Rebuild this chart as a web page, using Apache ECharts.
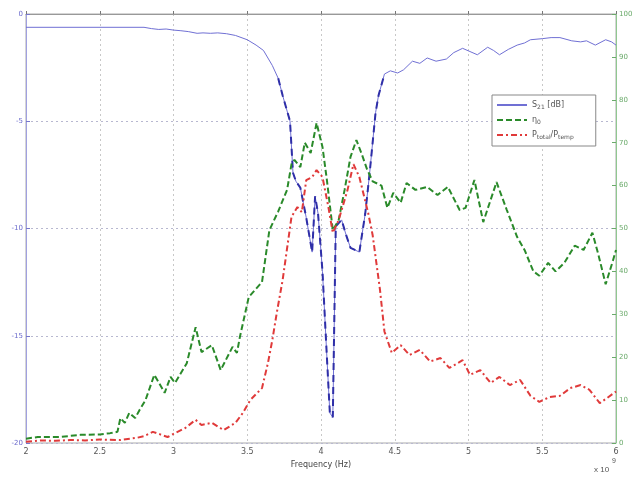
<!DOCTYPE html>
<html>
<head>
<meta charset="utf-8">
<script src="https://cdn.jsdelivr.net/npm/echarts@6/dist/echarts.min.js"></script>
<style>
html, body { margin: 0; padding: 0; background: #fff; }
#chart_box { width: 642px; height: 477px; }
</style>
</head>
<body>
<div id="chart_box"></div>
<script>
// frequency in GHz (axis shows x 10^9)
var xTicks = ["2", "2.5", "3", "3.5", "4", "4.5", "5", "5.5", "6"];

// S21 [dB], left axis
var s21Freq = [2.00, 2.80, 2.85, 2.90, 2.95, 3.00, 3.05, 3.10, 3.16, 3.20, 3.25, 3.30, 3.36, 3.42, 3.50, 3.56, 3.61, 3.67, 3.71, 3.74,
  3.79, 3.81, 3.83, 3.86, 3.90, 3.94, 3.96, 3.98, 4.01, 4.04, 4.06, 4.08, 4.10, 4.14, 4.17, 4.20, 4.23, 4.26, 4.30, 4.33,
  4.37, 4.39, 4.43, 4.47, 4.52, 4.56, 4.62, 4.67, 4.72, 4.78, 4.85, 4.90, 4.96, 5.01, 5.06, 5.13, 5.17, 5.21, 5.27, 5.33,
  5.38, 5.42, 5.50, 5.56, 5.62, 5.70, 5.76, 5.80, 5.86, 5.93, 5.97, 6.00];
var s21 = [-0.62, -0.62, -0.68, -0.72, -0.70, -0.75, -0.78, -0.82, -0.90, -0.88, -0.90, -0.88, -0.92, -1.00, -1.20, -1.45, -1.70, -2.40, -3.00, -3.80,
  -5.00, -7.40, -7.80, -8.10, -9.50, -11.10, -8.50, -9.30, -12.00, -16.00, -18.60, -18.80, -9.90, -9.60, -10.30, -10.90, -11.00, -11.10, -9.30, -7.40,
  -4.60, -3.80, -2.80, -2.65, -2.75, -2.60, -2.20, -2.30, -2.05, -2.20, -2.10, -1.80, -1.60, -1.75, -1.90, -1.55, -1.70, -1.90, -1.65, -1.45,
  -1.35, -1.20, -1.15, -1.10, -1.10, -1.25, -1.30, -1.25, -1.45, -1.20, -1.30, -1.45];

// eta, right axis
var etaFreq = [2.00, 2.08, 2.23, 2.37, 2.50, 2.57, 2.62, 2.64, 2.67, 2.70, 2.74, 2.77, 2.81, 2.87, 2.94, 2.98, 3.01, 3.09, 3.15, 3.19,
  3.26, 3.32, 3.40, 3.43, 3.45, 3.51, 3.60, 3.65, 3.71, 3.77, 3.80, 3.82, 3.86, 3.89, 3.93, 3.97, 4.01, 4.04, 4.08, 4.12,
  4.16, 4.20, 4.24, 4.28, 4.31, 4.35, 4.41, 4.45, 4.49, 4.54, 4.58, 4.64, 4.72, 4.79, 4.86, 4.94, 4.98, 5.04, 5.10, 5.19,
  5.26, 5.33, 5.38, 5.44, 5.48, 5.54, 5.59, 5.65, 5.72, 5.78, 5.84, 5.88, 5.93, 5.98, 6.00];
var eta = [1.0, 1.4, 1.4, 1.9, 2.0, 2.3, 2.6, 5.8, 4.7, 7.0, 5.8, 7.7, 10.0, 15.9, 11.7, 15.4, 14.0, 18.6, 27.0, 21.2,
  22.8, 17.0, 22.4, 21.0, 24.7, 34.0, 37.5, 49.6, 54.0, 59.0, 65.0, 66.0, 64.3, 70.0, 67.6, 74.6, 69.0, 61.3, 49.6, 52.0,
  59.0, 66.7, 70.6, 67.0, 64.0, 61.0, 60.0, 54.8, 58.3, 56.0, 60.6, 59.0, 59.7, 57.8, 59.7, 54.3, 54.8, 61.3, 51.5, 60.8,
  54.3, 48.0, 45.0, 40.0, 39.0, 42.0, 40.0, 42.0, 46.0, 45.0, 49.0, 44.0, 37.0, 42.6, 45.0];

// Ptotal/Ptemp, right axis
var ratioFreq = [2.00, 2.10, 2.20, 2.30, 2.40, 2.50, 2.64, 2.75, 2.80, 2.86, 2.91, 2.96, 3.01, 3.08, 3.15, 3.19, 3.26, 3.34, 3.42, 3.47,
  3.52, 3.60, 3.64, 3.67, 3.70, 3.74, 3.80, 3.84, 3.87, 3.90, 3.94, 3.97, 4.01, 4.05, 4.08, 4.12, 4.18, 4.22, 4.26, 4.32,
  4.35, 4.40, 4.43, 4.48, 4.54, 4.60, 4.67, 4.74, 4.81, 4.87, 4.96, 5.01, 5.08, 5.15, 5.21, 5.28, 5.35, 5.42, 5.48, 5.55,
  5.62, 5.69, 5.76, 5.82, 5.89, 5.94, 6.00];
var ratio = [0.3, 0.6, 0.5, 0.7, 0.6, 0.8, 0.7, 1.2, 1.6, 2.6, 2.0, 1.4, 2.3, 3.5, 5.4, 4.2, 4.7, 3.0, 4.7, 7.0,
  10.0, 12.8, 18.6, 24.0, 30.3, 38.0, 52.7, 55.0, 53.8, 61.3, 62.0, 63.6, 62.0, 55.0, 49.0, 52.0, 59.0, 65.0, 62.0, 53.6,
  48.5, 35.7, 26.0, 21.0, 22.8, 20.5, 21.7, 19.0, 19.8, 17.5, 19.3, 15.9, 17.0, 14.0, 15.4, 13.5, 14.7, 11.0, 9.6, 10.7,
  11.0, 12.8, 13.5, 12.4, 9.3, 10.5, 12.0];

function pairs(xs, ys) {
  return xs.map(function (x, i) { return [x, ys[i]]; });
}

var s21All = pairs(s21Freq, s21);
// steep part of S21 is drawn dashed
var s21Steep = s21All.filter(function (p) { return p[0] >= 3.71 && p[0] <= 4.43; });

var myecharts = echarts.init(document.getElementById("chart_box"));
var option = {
  animation: false,
  backgroundColor: "#fff",
  textStyle: { fontFamily: "DejaVu Sans" },
  grid: {
    left: 26,
    right: 26,
    top: 14,
    bottom: 34,
    containLabel: false,
    outerBoundsMode: "none",
    show: true,
    borderColor: "#aaa",
    borderWidth: 1
  },
  legend: {
    left: 492,
    top: 95,
    orient: "vertical",
    padding: [6, 22, 6, 4],
    itemGap: 6,
    itemWidth: 30,
    itemHeight: 10,
    backgroundColor: "#fff",
    borderColor: "#888",
    borderWidth: 1,
    itemStyle: { opacity: 0, borderWidth: 0 },
    data: ["S21", "eta", "ratio"],
    formatter: function (name) {
      if (name === "S21") return "S{sub|21} [dB]";
      if (name === "eta") return "η{sub|0}";
      return "P{sub|total}/P{sub|temp}";
    },
    textStyle: {
      fontSize: 8,
      color: "#555",
      rich: { sub: { fontSize: 6, color: "#555", verticalAlign: "bottom", padding: [4, 0, 0, 0] } }
    }
  },
  xAxis: {
    type: "value",
    min: 2,
    max: 6,
    interval: 0.5,
    name: "Frequency (Hz)",
    nameLocation: "middle",
    nameGap: 16,
    nameTextStyle: { fontSize: 8, color: "#444" },
    axisLine: { lineStyle: { color: "#999" } },
    axisTick: { inside: true, length: 3, lineStyle: { color: "#777" } },
    axisLabel: {
      fontSize: 8,
      color: "#555",
      margin: 5,
      formatter: function (v) { return xTicks[Math.round((v - 2) / 0.5)]; }
    },
    splitLine: { show: true, lineStyle: { color: "#c8c8c8", type: [2, 3] } }
  },
  yAxis: [
    {
      type: "value",
      min: -20,
      max: 0,
      interval: 5,
      position: "left",
      name: "S{sub|21} [dB]",
      nameLocation: "middle",
      nameRotate: 90,
      nameGap: 14,
      nameTextStyle: {
        fontSize: 8,
        color: "#5a5ac0",
        rich: { sub: { fontSize: 6, color: "#5a5ac0" } }
      },
      axisLine: { show: true, lineStyle: { color: "#a0a0e0" } },
      axisTick: { show: true, inside: true, length: 4, lineStyle: { color: "#7777cc" } },
      axisLabel: { fontSize: 7, color: "#6a6acc", margin: 3 },
      splitLine: { show: true, lineStyle: { color: "#b8b8d0", type: [2, 3] } }
    },
    {
      type: "value",
      min: 0,
      max: 100,
      interval: 10,
      position: "right",
      name: "Efficiency (%)",
      nameLocation: "middle",
      nameRotate: 90,
      nameGap: 16,
      nameTextStyle: { fontSize: 8, color: "#5aa05a" },
      axisLine: { show: true, lineStyle: { color: "#90c890" } },
      axisTick: { show: true, inside: true, length: 4, lineStyle: { color: "#6aaa6a" } },
      axisLabel: { fontSize: 7, color: "#6aaa6a", margin: 3 },
      splitLine: { show: false }
    }
  ],
  series: [
    {
      name: "S21",
      type: "line",
      yAxisIndex: 0,
      symbol: "none",
      data: s21All,
      lineStyle: { color: "#7070d4", width: 1 },
      itemStyle: { color: "#7070d4" },
      z: 3
    },
    {
      name: "S21 steep",
      type: "line",
      yAxisIndex: 0,
      symbol: "none",
      data: s21Steep,
      lineStyle: { color: "#2f2fa8", width: 2, type: [7, 5] },
      itemStyle: { color: "#2f2fa8" },
      z: 4
    },
    {
      name: "eta",
      type: "line",
      yAxisIndex: 1,
      symbol: "none",
      data: pairs(etaFreq, eta),
      lineStyle: { color: "#2a8a2a", width: 2, type: [6, 3] },
      itemStyle: { color: "#2a8a2a" },
      z: 5
    },
    {
      name: "ratio",
      type: "line",
      yAxisIndex: 1,
      symbol: "none",
      data: pairs(ratioFreq, ratio),
      lineStyle: { color: "#e03a3a", width: 2, type: [6, 3, 2, 3] },
      itemStyle: { color: "#e03a3a" },
      z: 6
    }
  ],
  graphic: [
    { type: "text", left: 594, top: 466, style: { text: "x 10", fontSize: 8, fill: "#555" } },
    { type: "text", left: 612, top: 458, style: { text: "9", fontSize: 7, fill: "#555" } }
  ]
};
myecharts.setOption(option);
</script>
</body>
</html>
